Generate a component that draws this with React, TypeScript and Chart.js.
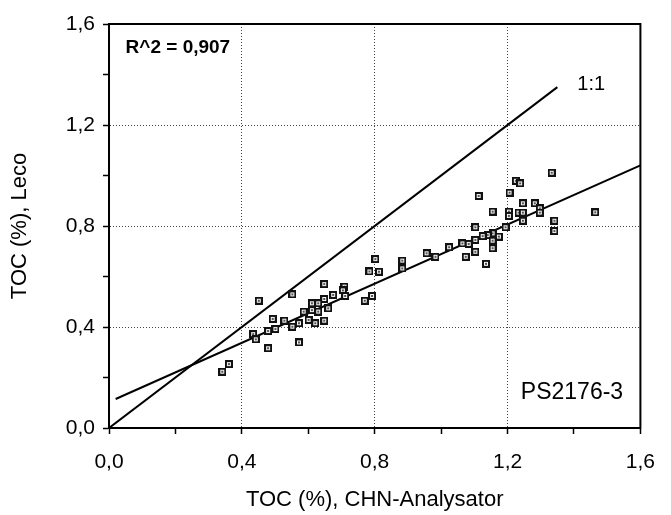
import React, { useEffect, useRef } from "react";
import { Chart, registerables } from "chart.js";

Chart.register(...registerables);

// Measured points: TOC (%) CHN-Analysator (x) vs TOC (%) Leco (y)
const X_VALUES = [
  0.451, 0.552, 0.648, 0.709, 0.704, 0.802, 0.784, 0.813, 0.770, 0.792,
  0.675, 0.711, 0.648, 0.611, 0.630, 0.660, 0.630, 0.611, 0.586, 0.493,
  0.528, 0.552, 0.572, 0.601, 0.621, 0.648, 0.501, 0.479, 0.434, 0.442,
  0.479, 0.572, 0.361, 0.341,
  1.333, 1.225, 1.238, 1.113, 1.206, 1.155, 1.246, 1.282, 1.297, 1.297,
  1.204, 1.204, 1.233, 1.246, 1.246, 1.341, 1.341, 1.464, 1.103, 1.194,
  1.155, 1.140, 1.125, 1.174, 1.155, 1.155, 1.135, 1.103, 1.103, 1.083,
  1.064, 1.074, 1.024, 0.983, 0.956, 0.883, 0.883,
];
const Y_VALUES = [
  0.504, 0.529, 0.570, 0.560, 0.545, 0.669, 0.620, 0.619, 0.504, 0.523,
  0.527, 0.523, 0.511, 0.494, 0.494, 0.474, 0.461, 0.467, 0.461, 0.432,
  0.425, 0.401, 0.415, 0.428, 0.415, 0.425, 0.392, 0.384, 0.372, 0.351,
  0.316, 0.339, 0.253, 0.223,
  1.011, 0.979, 0.969, 0.919, 0.932, 0.857, 0.890, 0.890, 0.870, 0.853,
  0.857, 0.840, 0.853, 0.853, 0.821, 0.821, 0.780, 0.854, 0.795, 0.795,
  0.771, 0.764, 0.760, 0.758, 0.742, 0.712, 0.650, 0.745, 0.698, 0.729,
  0.731, 0.678, 0.716, 0.678, 0.692, 0.663, 0.632,
];

// Line end points
const ONE_TO_ONE_X = [0, 1.35];
const ONE_TO_ONE_Y = [0, 1.35];
const REGRESSION_X = [0.02, 1.6];
const REGRESSION_Y = [0.115, 1.04];

// Axis settings
const AXIS_MIN = 0;
const AXIS_MAX = 1.6;
const TICK_STEP = 0.2;

const X_TITLE = "TOC (%), CHN-Analysator";
const Y_TITLE = "TOC (%), Leco";
const R2_LABEL = "R^2 = 0,907";
const LINE_LABEL = "1:1";
const CORE_LABEL = "PS2176-3";

const FONT = "'Liberation Sans', Arial, sans-serif";

function isMajor(v: number) {
  return Math.round(v * 10) % 4 === 0;
}
function fmt(v: number) {
  return (Math.round(v * 10) / 10).toFixed(1).replace(".", ",");
}

function makeMarker() {
  const c = document.createElement("canvas");
  c.width = 8;
  c.height = 8;
  const g = c.getContext("2d")!;
  g.fillStyle = "#111";
  g.fillRect(0, 0, 8, 8);
  g.fillStyle = "#f4f4f4";
  g.fillRect(2, 2, 4, 4);
  g.fillStyle = "#555";
  g.fillRect(3, 3, 2, 2);
  return c;
}

const framePlugin = {
  id: "frameAndLabels",
  afterDatasetsDraw(chart: any) {
    const { ctx, chartArea, scales } = chart;
    const xs = scales.x;
    const ys = scales.y;
    ctx.save();
    ctx.strokeStyle = "#000";
    ctx.lineWidth = 2;
    ctx.strokeRect(
      chartArea.left,
      chartArea.top,
      chartArea.right - chartArea.left,
      chartArea.bottom - chartArea.top
    );
    ctx.fillStyle = "#000";
    ctx.textBaseline = "middle";
    ctx.font = `bold 19px ${FONT}`;
    ctx.textAlign = "left";
    ctx.fillText(R2_LABEL, xs.getPixelForValue(0.05), ys.getPixelForValue(1.505));
    ctx.font = `20px ${FONT}`;
    ctx.fillText(LINE_LABEL, xs.getPixelForValue(1.41), ys.getPixelForValue(1.36));
    ctx.font = `23px ${FONT}`;
    ctx.textAlign = "right";
    ctx.fillText(CORE_LABEL, xs.getPixelForValue(1.548), ys.getPixelForValue(0.14));
    ctx.restore();
  },
};

export default function App() {
  const ref = useRef<HTMLCanvasElement | null>(null);

  useEffect(() => {
    if (!ref.current) return;
    const marker = makeMarker();
    const points = X_VALUES.map((x, i) => ({ x, y: Y_VALUES[i] }));
    const oneToOne = ONE_TO_ONE_X.map((x, i) => ({ x, y: ONE_TO_ONE_Y[i] }));
    const regression = REGRESSION_X.map((x, i) => ({ x, y: REGRESSION_Y[i] }));

    const axisCommon = (title: string, isX: boolean) => ({
      type: "linear" as const,
      min: AXIS_MIN,
      max: AXIS_MAX,
      border: { display: true, color: "#000", width: 2, dash: [1, 2] },
      grid: {
        color: (c: any) =>
          c.tick && isMajor(c.tick.value) ? "#444" : "rgba(0,0,0,0)",
        lineWidth: 1,
        tickColor: "#000",
        tickLength: 6,
        tickWidth: 1.5,
        drawOnChartArea: true,
      },
      ticks: {
        stepSize: TICK_STEP,
        color: "#000",
        font: { family: FONT, size: 21 },
        padding: isX ? 16 : 8,
        autoSkip: false,
        maxRotation: 0,
        callback: (v: any) => (isMajor(Number(v)) ? fmt(Number(v)) : ""),
      },
      title: {
        display: true,
        text: title,
        color: "#000",
        font: { family: FONT, size: 22 },
        padding: isX ? { top: 0, bottom: 2 } : { top: 7, bottom: 0 },
      },
      afterFit: (scale: any) => {
        if (isX) scale.height = 87;
        else scale.width = 109;
      },
    });

    const xAxis: any = axisCommon(X_TITLE, true);
    const yAxis: any = axisCommon(Y_TITLE, false);

    const chart = new Chart(ref.current, {
      type: "scatter",
      data: {
        datasets: [
          {
            label: "Messwerte",
            data: points,
            pointStyle: marker as any,
            pointRadius: 4,
            showLine: false,
            order: 0,
          },
          {
            label: "1:1",
            data: oneToOne,
            showLine: true,
            borderColor: "#000",
            borderWidth: 2,
            pointRadius: 0,
            order: 1,
          },
          {
            label: "Regression",
            data: regression,
            showLine: true,
            borderColor: "#000",
            borderWidth: 2,
            pointRadius: 0,
            order: 1,
          },
        ],
      },
      options: {
        animation: false,
        responsive: false,
        maintainAspectRatio: false,
        layout: { padding: { top: 24, right: 18, left: 0, bottom: 0 } },
        plugins: {
          legend: { display: false },
          tooltip: { enabled: false },
        },
        scales: {
          x: xAxis,
          y: yAxis,
        },
      },
      plugins: [framePlugin],
    });
    return () => chart.destroy();
  }, []);

  return (
    <div
      style={{
        position: "fixed",
        left: 0,
        top: 0,
        width: 671,
        height: 515,
        background: "#fff",
      }}
    >
      <canvas ref={ref} width={671} height={515} />
    </div>
  );
}
